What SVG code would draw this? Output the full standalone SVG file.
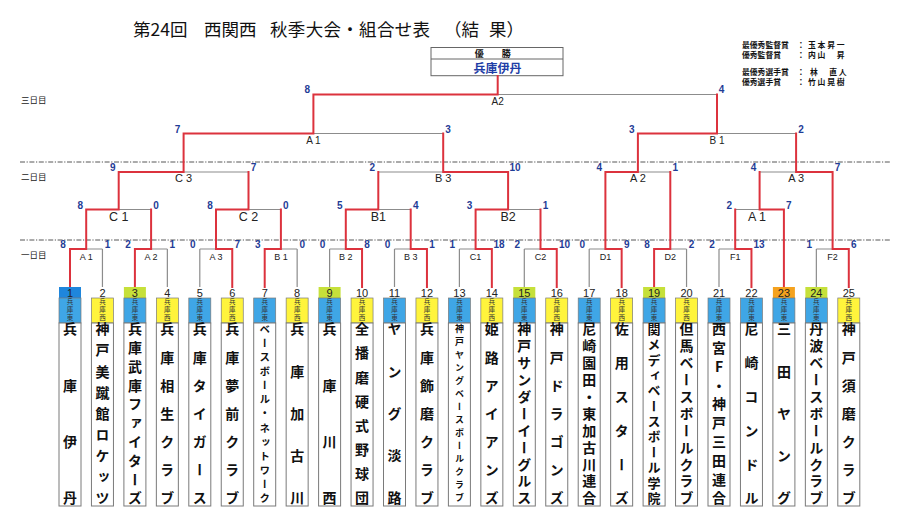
<svg xmlns="http://www.w3.org/2000/svg" width="898" height="511" viewBox="0 0 898 511">
<style>
.r{stroke:#dc323d;stroke-width:2;fill:none;stroke-linecap:square}
.g{stroke:#8c8c8c;stroke-width:1.2;fill:none}
.sep{stroke:#444;stroke-width:0.9;stroke-dasharray:5 1.6 1.2 1.6;fill:none}
.sc{font-family:"Liberation Sans",Arial,sans-serif;font-weight:bold;font-size:10px;fill:#1f3c96;text-anchor:middle}
.l1{font-family:"Liberation Sans",Arial,sans-serif;font-size:9px;fill:#222;text-anchor:middle}
.l2{font-family:"Liberation Sans",Arial,sans-serif;font-size:12.5px;fill:#222;text-anchor:middle}
.l3{font-family:"Liberation Sans",Arial,sans-serif;font-size:11px;fill:#222;text-anchor:middle}
.l4{font-family:"Liberation Sans",Arial,sans-serif;font-size:10px;fill:#222;text-anchor:middle}
.num{font-family:"Liberation Sans",Arial,sans-serif;font-size:11px;fill:#222;text-anchor:middle}
.pe{stroke:#7a7a7a;stroke-width:0.7}
.e{fill:#3fa6e6}
.w{fill:#fff43c}
.nb{fill:#fff;stroke:#7a7a7a;stroke-width:1}
.pref{font-family:"Noto Sans CJK JP",sans-serif;font-size:6.5px;fill:#333;writing-mode:vertical-rl;text-anchor:middle}
.nm{font-family:"Noto Sans CJK JP",sans-serif;font-weight:bold;font-size:14px;fill:#111;writing-mode:vertical-rl;text-orientation:upright;text-anchor:middle}
.jp{font-family:"Noto Sans CJK JP",sans-serif;fill:#111}
.aw{font-family:"Noto Sans CJK JP",sans-serif;font-weight:bold;font-size:7.8px;fill:#111}
.an{font-family:"Noto Sans CJK JP",sans-serif;font-weight:bold;font-size:7.8px;letter-spacing:1.8px;fill:#111}
.day{font-family:"Noto Sans CJK JP",sans-serif;font-size:8.5px;fill:#222}
</style>

<g id="title">
<text class="jp" x="133" y="36" font-size="17.5">第24回</text>
<text class="jp" x="204" y="36" font-size="17.5">西関西</text>
<text class="jp" x="270" y="36" font-size="17.5" textLength="160">秋季大会・組合せ表</text>
<text class="jp" x="444 461.5 479 489 506.5" y="36" font-size="17.5">（結　果）</text>
</g>

<g id="awards">
<text class="aw" x="742" y="47.5">最優秀監督賞</text><text class="aw" x="797" y="47.5">：</text><text class="an" x="808" y="47.5">玉本昇一</text>
<text class="aw" x="742" y="57.5">優秀監督賞</text><text class="aw" x="797" y="57.5">：</text><text class="an" x="808" y="57.5">内山　昇</text>
<text class="aw" x="742" y="74.5">最優秀選手賞</text><text class="aw" x="797" y="74.5">：</text><text class="an" x="810" y="74.5">林　直人</text>
<text class="aw" x="742" y="84.5">優秀選手賞</text><text class="aw" x="797" y="84.5">：</text><text class="an" x="808" y="84.5">竹山晃樹</text>
</g>

<g id="days">
<text class="day" x="21" y="103">三日目</text>
<text class="day" x="21" y="180">二日目</text>
<text class="day" x="21" y="258">一日目</text>
<path class="sep" d="M20 162H890M20 240H890"/>
</g>

<g id="champion">
<rect x="431" y="47.5" width="132" height="28.2" fill="#fff" stroke="#666" stroke-width="1"/>
<path d="M431 59H563" stroke="#666" stroke-width="1"/>
<text class="jp" x="495" y="56.5" font-size="9" font-weight="bold" text-anchor="middle" letter-spacing="4.5">優　勝</text>
<text class="jp" x="497.5" y="72.5" font-size="12" font-weight="bold" text-anchor="middle" style="fill:#1e3da6">兵庫伊丹</text>
</g>

<g id="connectors">
<path class="g" d="M102.45 287V249M167.35 287V249M199.8 287V249M297.15 287V249M329.6 287V249M394.5 287V249M459.4 287V249M524.3 287V249M589.2 287V249M686.55 287V249M719 287V249M816.35 287V249
M86.2 249H102.45M151.1 249H167.35M199.8 249H216M280.9 249H297.15M329.6 249H345.8M394.5 249H410.7M459.4 249H475.6M524.3 249H540.5M589.2 249H605.4M670.3 249H686.55M719 249H735.2M816.35 249H832.6
M118.7 209.5H151.1M248.5 209.5H280.9M378.3 209.5H410.7M508.1 209.5H540.5M735.2 209.5H759.6
M183.6 172H248.5M378.3 172H443.2M637.9 172H670.3M759.6 172H796.1
M313.4 133.5H443.2M717 133.5H796.1
M497.7 94.5H717"/>
<path class="r" d="M70 287V249H86.2V209.5H118.7V172H183.6V133.5H313.4V94.5H497.7V76
M134.9 287V249H151.1V209.5
M232.25 287V249H216V209.5H248.5V172
M264.7 287V249H280.9V209.5
M362.05 287V249H345.8V209.5H378.3V172
M426.95 287V249H410.7V209.5
M491.85 287V249H475.6V209.5H508.1V172H443.2V133.5
M556.75 287V249H540.5V209.5
M621.65 287V249H605.4V172H637.9V133.5H717V94.5
M654.1 287V249H670.3V172
M751.45 287V249H735.2V209.5
M783.9 287V209.5H759.6V172
M848.8 287V249H832.6V172H796.1V133.5"/>
</g>

<g id="r1-A1"><text class="sc" x="63" y="248">8</text><text class="sc" x="107.5" y="248">1</text><text class="l1" x="86.2" y="259.5">A 1</text></g>
<g id="r1-A2"><text class="sc" x="128" y="248">2</text><text class="sc" x="172.4" y="248">1</text><text class="l1" x="151.1" y="259.5">A 2</text></g>
<g id="r1-A3"><text class="sc" x="192.8" y="248">0</text><text class="sc" x="237.3" y="248">7</text><text class="l1" x="216" y="259.5">A 3</text></g>
<g id="r1-B1"><text class="sc" x="257.7" y="248">3</text><text class="sc" x="302.2" y="248">0</text><text class="l1" x="280.9" y="259.5">B 1</text></g>
<g id="r1-B2"><text class="sc" x="322.6" y="248">0</text><text class="sc" x="367" y="248">8</text><text class="l1" x="345.8" y="259.5">B 2</text></g>
<g id="r1-B3"><text class="sc" x="387.5" y="248">0</text><text class="sc" x="432" y="248">1</text><text class="l1" x="410.7" y="259.5">B 3</text></g>
<g id="r1-C1"><text class="sc" x="452.4" y="248">1</text><text class="sc" x="499" y="248">18</text><text class="l1" x="475.6" y="259.5">C1</text></g>
<g id="r1-C2"><text class="sc" x="517.3" y="248">2</text><text class="sc" x="564.5" y="248">10</text><text class="l1" x="540.5" y="259.5">C2</text></g>
<g id="r1-D1"><text class="sc" x="582.2" y="248">0</text><text class="sc" x="626.7" y="248">9</text><text class="l1" x="605.4" y="259.5">D1</text></g>
<g id="r1-D2"><text class="sc" x="647.1" y="248">8</text><text class="sc" x="691.6" y="248">2</text><text class="l1" x="670.3" y="259.5">D2</text></g>
<g id="r1-F1"><text class="sc" x="712" y="248">2</text><text class="sc" x="759" y="248">13</text><text class="l1" x="735.2" y="259.5">F1</text></g>
<g id="r1-F2"><text class="sc" x="809.3" y="248">1</text><text class="sc" x="853.8" y="248">6</text><text class="l1" x="832.6" y="259.5">F2</text></g>

<g id="r2-C1"><text class="sc" x="80.2" y="208.5">8</text><text class="sc" x="156.1" y="208.5">0</text><text class="l2" x="118.7" y="221">C 1</text></g>
<g id="r2-C2"><text class="sc" x="210" y="208.5">8</text><text class="sc" x="285.9" y="208.5">0</text><text class="l2" x="248.5" y="221">C 2</text></g>
<g id="r2-B1"><text class="sc" x="339.8" y="208.5">5</text><text class="sc" x="415.7" y="208.5">4</text><text class="l2" x="378.3" y="221">B1</text></g>
<g id="r2-B2"><text class="sc" x="469.6" y="208.5">3</text><text class="sc" x="545.5" y="208.5">1</text><text class="l2" x="508.1" y="221">B2</text></g>
<g id="r2-A1"><text class="sc" x="729.2" y="208.5">2</text><text class="sc" x="788.9" y="208.5">7</text><text class="l2" x="757" y="221">A 1</text></g>

<g id="r3-C3"><text class="sc" x="112.7" y="171">9</text><text class="sc" x="253.5" y="171">7</text><text class="l3" x="183.6" y="181.5">C 3</text></g>
<g id="r3-B3"><text class="sc" x="372.3" y="171">2</text><text class="sc" x="515" y="171">10</text><text class="l3" x="443.2" y="181.5">B 3</text></g>
<g id="r3-A2"><text class="sc" x="599.4" y="171">4</text><text class="sc" x="675.3" y="171">1</text><text class="l3" x="637.9" y="181.5">A 2</text></g>
<g id="r3-A3"><text class="sc" x="753.6" y="171">4</text><text class="sc" x="837.6" y="171">7</text><text class="l3" x="796.1" y="181.5">A 3</text></g>

<g id="r4-A1"><text class="sc" x="177.6" y="132.5">7</text><text class="sc" x="448" y="132.5">3</text><text class="l4" x="313.4" y="143.5">A 1</text></g>
<g id="r4-B1"><text class="sc" x="631.9" y="132.5">3</text><text class="sc" x="801" y="132.5">2</text><text class="l4" x="717" y="143.5">B 1</text></g>

<g id="final-A2"><text class="sc" x="307.4" y="93">8</text><text class="sc" x="721.5" y="93">4</text><text class="l4" x="497.7" y="104.5">A2</text></g>

<g id="team-1" transform="translate(70 0)"><rect x="-11" y="287" width="22" height="11" fill="#1f86dc"/><text class="num" x="0" y="296.5">1</text><rect class="pe e" x="-11" y="298" width="22" height="25"/><text class="pref" x="0" y="302 310 318">兵庫東</text><rect class="nb" x="-11" y="323" width="22" height="183"/><text class="nm" x="0" y="329 385.3 441.7 498">兵庫伊丹</text></g>
<g id="team-2" transform="translate(102.45 0)"><text class="num" x="0" y="296.5">2</text><rect class="pe w" x="-11" y="298" width="22" height="25"/><text class="pref" x="0" y="302 310 318">兵庫西</text><rect class="nb" x="-11" y="323" width="22" height="183"/><text class="nm" x="0" y="329 350.1 371.3 392.4 413.5 434.6 455.8 476.9 498">神戸美蹴館ロケッツ</text></g>
<g id="team-3" transform="translate(134.9 0)"><rect x="-11" y="287" width="22" height="11" fill="#c6e03a"/><text class="num" x="0" y="296.5">3</text><rect class="pe e" x="-11" y="298" width="22" height="25"/><text class="pref" x="0" y="302 310 318">兵庫東</text><rect class="nb" x="-11" y="323" width="22" height="183"/><text class="nm" x="0" y="329 347.8 366.6 385.3 404.1 422.9 441.7 460.4 479.2 498">兵庫武庫ファイターズ</text></g>
<g id="team-4" transform="translate(167.35 0)"><text class="num" x="0" y="296.5">4</text><rect class="pe w" x="-11" y="298" width="22" height="25"/><text class="pref" x="0" y="302 310 318">兵庫西</text><rect class="nb" x="-11" y="323" width="22" height="183"/><text class="nm" x="0" y="329 357.2 385.3 413.5 441.7 469.8 498">兵庫相生クラブ</text></g>
<g id="team-5" transform="translate(199.8 0)"><text class="num" x="0" y="296.5">5</text><rect class="pe e" x="-11" y="298" width="22" height="25"/><text class="pref" x="0" y="302 310 318">兵庫東</text><rect class="nb" x="-11" y="323" width="22" height="183"/><text class="nm" x="0" y="329 357.2 385.3 413.5 441.7 469.8 498">兵庫タイガース</text></g>
<g id="team-6" transform="translate(232.25 0)"><text class="num" x="0" y="296.5">6</text><rect class="pe w" x="-11" y="298" width="22" height="25"/><text class="pref" x="0" y="302 310 318">兵庫西</text><rect class="nb" x="-11" y="323" width="22" height="183"/><text class="nm" x="0" y="329 357.2 385.3 413.5 441.7 469.8 498">兵庫夢前クラブ</text></g>
<g id="team-7" transform="translate(264.7 0)"><text class="num" x="0" y="296.5">7</text><rect class="pe e" x="-11" y="298" width="22" height="25"/><text class="pref" x="0" y="302 310 318">兵庫東</text><rect class="nb" x="-11" y="323" width="22" height="183"/><text class="nm" style="font-size:10.5px" x="0" y="329 343.1 357.2 371.3 385.3 399.4 413.5 427.6 441.7 455.8 469.8 483.9 498">ベースボール・ネットワーク</text></g>
<g id="team-8" transform="translate(297.15 0)"><text class="num" x="0" y="296.5">8</text><rect class="pe w" x="-11" y="298" width="22" height="25"/><text class="pref" x="0" y="302 310 318">兵庫西</text><rect class="nb" x="-11" y="323" width="22" height="183"/><text class="nm" x="0" y="329 371.3 413.5 455.8 498">兵庫加古川</text></g>
<g id="team-9" transform="translate(329.6 0)"><rect x="-11" y="287" width="22" height="11" fill="#c6e03a"/><text class="num" x="0" y="296.5">9</text><rect class="pe e" x="-11" y="298" width="22" height="25"/><text class="pref" x="0" y="302 310 318">兵庫東</text><rect class="nb" x="-11" y="323" width="22" height="183"/><text class="nm" x="0" y="329 385.3 441.7 498">兵庫川西</text></g>
<g id="team-10" transform="translate(362.05 0)"><text class="num" x="0" y="296.5">10</text><rect class="pe w" x="-11" y="298" width="22" height="25"/><text class="pref" x="0" y="302 310 318">兵庫西</text><rect class="nb" x="-11" y="323" width="22" height="183"/><text class="nm" x="0" y="329 353.1 377.3 401.4 425.6 449.7 473.9 498">全播磨硬式野球団</text></g>
<g id="team-11" transform="translate(394.5 0)"><text class="num" x="0" y="296.5">11</text><rect class="pe e" x="-11" y="298" width="22" height="25"/><text class="pref" x="0" y="302 310 318">兵庫東</text><rect class="nb" x="-11" y="323" width="22" height="183"/><text class="nm" x="0" y="329 371.3 413.5 455.8 498">ヤング淡路</text></g>
<g id="team-12" transform="translate(426.95 0)"><text class="num" x="0" y="296.5">12</text><rect class="pe w" x="-11" y="298" width="22" height="25"/><text class="pref" x="0" y="302 310 318">兵庫西</text><rect class="nb" x="-11" y="323" width="22" height="183"/><text class="nm" x="0" y="329 357.2 385.3 413.5 441.7 469.8 498">兵庫飾磨クラブ</text></g>
<g id="team-13" transform="translate(459.4 0)"><text class="num" x="0" y="296.5">13</text><rect class="pe e" x="-11" y="298" width="22" height="25"/><text class="pref" x="0" y="302 310 318">兵庫東</text><rect class="nb" x="-11" y="323" width="22" height="183"/><text class="nm" style="font-size:9px" x="0" y="329 342 355 368 381 394 407 420 433 446 459 472 485 498">神戸ヤングベースボールクラブ</text></g>
<g id="team-14" transform="translate(491.85 0)"><text class="num" x="0" y="296.5">14</text><rect class="pe w" x="-11" y="298" width="22" height="25"/><text class="pref" x="0" y="302 310 318">兵庫西</text><rect class="nb" x="-11" y="323" width="22" height="183"/><text class="nm" x="0" y="329 357.2 385.3 413.5 441.7 469.8 498">姫路アイアンズ</text></g>
<g id="team-15" transform="translate(524.3 0)"><rect x="-11" y="287" width="22" height="11" fill="#c6e03a"/><text class="num" x="0" y="296.5">15</text><rect class="pe e" x="-11" y="298" width="22" height="25"/><text class="pref" x="0" y="302 310 318">兵庫東</text><rect class="nb" x="-11" y="323" width="22" height="183"/><text class="nm" x="0" y="329 345.9 362.8 379.7 396.6 413.5 430.4 447.3 464.2 481.1 498">神戸サンダーイーグルス</text></g>
<g id="team-16" transform="translate(556.75 0)"><text class="num" x="0" y="296.5">16</text><rect class="pe w" x="-11" y="298" width="22" height="25"/><text class="pref" x="0" y="302 310 318">兵庫西</text><rect class="nb" x="-11" y="323" width="22" height="183"/><text class="nm" x="0" y="329 357.2 385.3 413.5 441.7 469.8 498">神戸ドラゴンズ</text></g>
<g id="team-17" transform="translate(589.2 0)"><text class="num" x="0" y="296.5">17</text><rect class="pe e" x="-11" y="298" width="22" height="25"/><text class="pref" x="0" y="302 310 318">兵庫東</text><rect class="nb" x="-11" y="323" width="22" height="183"/><text class="nm" x="0" y="329 345.9 362.8 379.7 396.6 413.5 430.4 447.3 464.2 481.1 498">尼崎園田・東加古川連合</text></g>
<g id="team-18" transform="translate(621.65 0)"><text class="num" x="0" y="296.5">18</text><rect class="pe w" x="-11" y="298" width="22" height="25"/><text class="pref" x="0" y="302 310 318">兵庫西</text><rect class="nb" x="-11" y="323" width="22" height="183"/><text class="nm" x="0" y="329 362.8 396.6 430.4 464.2 498">佐用スターズ</text></g>
<g id="team-19" transform="translate(654.1 0)"><rect x="-11" y="287" width="22" height="11" fill="#c6e03a"/><text class="num" x="0" y="296.5">19</text><rect class="pe e" x="-11" y="298" width="22" height="25"/><text class="pref" x="0" y="302 310 318">兵庫東</text><rect class="nb" x="-11" y="323" width="22" height="183"/><text class="nm" style="font-size:13px" x="0" y="329 344.4 359.7 375.1 390.5 405.8 421.2 436.5 451.9 467.3 482.6 498">関メディベースボール学院</text></g>
<g id="team-20" transform="translate(686.55 0)"><text class="num" x="0" y="296.5">20</text><rect class="pe w" x="-11" y="298" width="22" height="25"/><text class="pref" x="0" y="302 310 318">兵庫西</text><rect class="nb" x="-11" y="323" width="22" height="183"/><text class="nm" x="0" y="329 345.9 362.8 379.7 396.6 413.5 430.4 447.3 464.2 481.1 498">但馬ベースボールクラブ</text></g>
<g id="team-21" transform="translate(719 0)"><text class="num" x="0" y="296.5">21</text><rect class="pe e" x="-11" y="298" width="22" height="25"/><text class="pref" x="0" y="302 310 318">兵庫東</text><rect class="nb" x="-11" y="323" width="22" height="183"/><text class="nm" x="0" y="329 347.8 366.6 385.3 404.1 422.9 441.7 460.4 479.2 498">西宮F・神戸三田連合</text></g>
<g id="team-22" transform="translate(751.45 0)"><text class="num" x="0" y="296.5">22</text><rect class="pe e" x="-11" y="298" width="22" height="25"/><text class="pref" x="0" y="302 310 318">兵庫東</text><rect class="nb" x="-11" y="323" width="22" height="183"/><text class="nm" x="0" y="329 362.8 396.6 430.4 464.2 498">尼崎コンドル</text></g>
<g id="team-23" transform="translate(783.9 0)"><rect x="-11" y="287" width="22" height="11" fill="#f5a21e"/><text class="num" x="0" y="296.5">23</text><rect class="pe e" x="-11" y="298" width="22" height="25"/><text class="pref" x="0" y="302 310 318">兵庫東</text><rect class="nb" x="-11" y="323" width="22" height="183"/><text class="nm" x="0" y="329 371.3 413.5 455.8 498">三田ヤング</text></g>
<g id="team-24" transform="translate(816.35 0)"><rect x="-11" y="287" width="22" height="11" fill="#c6e03a"/><text class="num" x="0" y="296.5">24</text><rect class="pe e" x="-11" y="298" width="22" height="25"/><text class="pref" x="0" y="302 310 318">兵庫東</text><rect class="nb" x="-11" y="323" width="22" height="183"/><text class="nm" x="0" y="329 345.9 362.8 379.7 396.6 413.5 430.4 447.3 464.2 481.1 498">丹波ベースボールクラブ</text></g>
<g id="team-25" transform="translate(848.8 0)"><text class="num" x="0" y="296.5">25</text><rect class="pe w" x="-11" y="298" width="22" height="25"/><text class="pref" x="0" y="302 310 318">兵庫西</text><rect class="nb" x="-11" y="323" width="22" height="183"/><text class="nm" x="0" y="329 357.2 385.3 413.5 441.7 469.8 498">神戸須磨クラブ</text></g>
</svg>
